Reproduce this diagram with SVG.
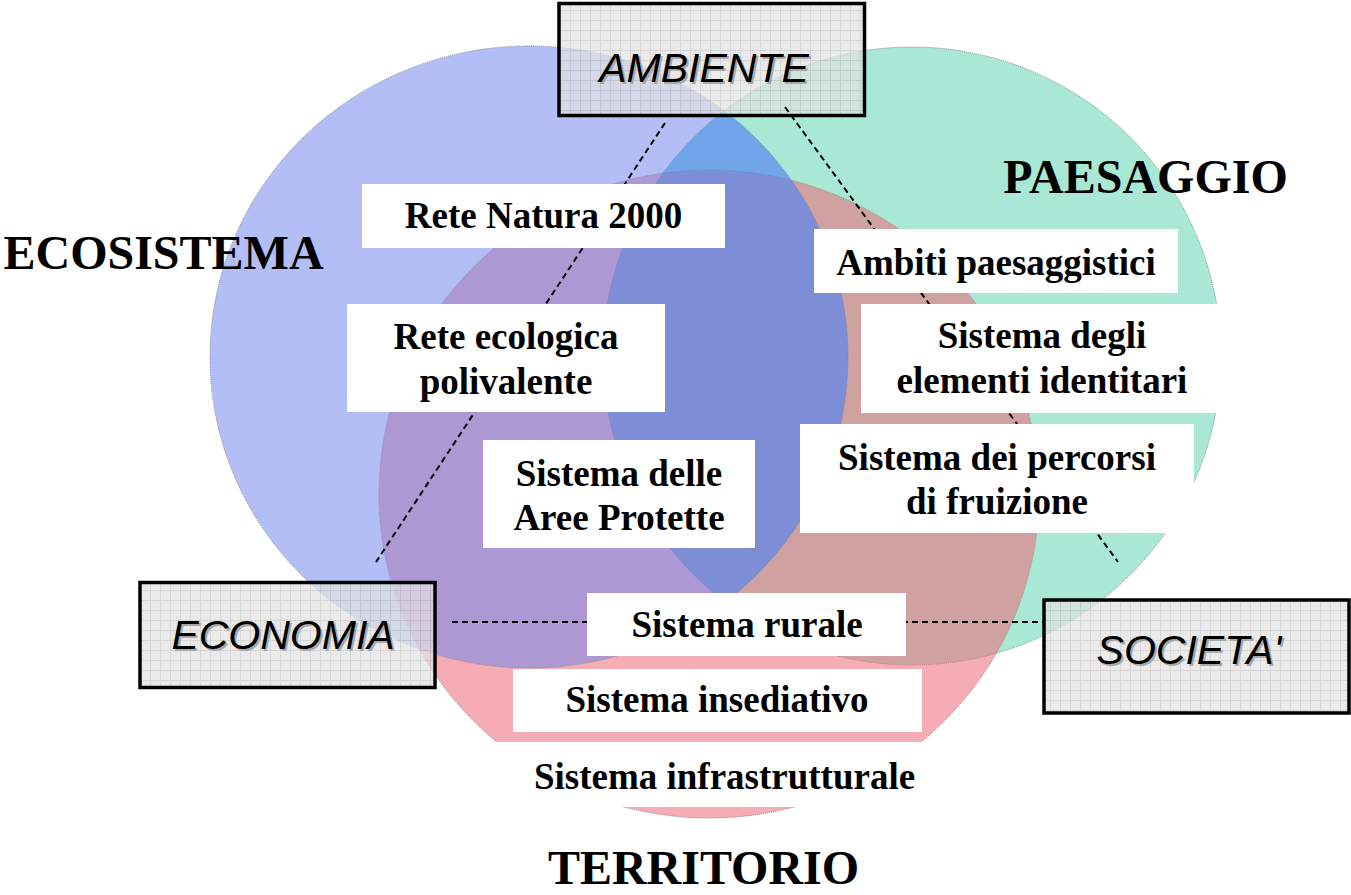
<svg xmlns="http://www.w3.org/2000/svg" width="1351" height="895" viewBox="0 0 1351 895">
<defs>
<pattern id="grid" patternUnits="userSpaceOnUse" width="10" height="10">
<rect width="10" height="10" fill="#e2e2e2"/>
<path d="M0 0.5H10M0.5 0V10" stroke="#c6c6c6" stroke-width="1"/>
</pattern>
<clipPath id="greenClip">
<ellipse cx="912" cy="356" rx="309" ry="309"/>
</clipPath>
</defs>
<style>
.circ{stroke:#8a8a8a;stroke-width:1;stroke-dasharray:1 1;}
.gbox{fill:url(#grid);fill-opacity:0.72;stroke:#000;stroke-width:3.5;}
.wbox{fill:#fff;}
.lbl{font-family:"Liberation Serif","Times New Roman",serif;font-weight:bold;font-size:37px;fill:#000;text-anchor:middle;}
.big{font-family:"Liberation Serif","Times New Roman",serif;font-weight:bold;font-size:48px;fill:#000;text-anchor:middle;}
.ital{font-family:"Liberation Sans",Arial,sans-serif;font-style:italic;font-size:41px;text-anchor:middle;}
.sh{fill:#a8a8a8;}
.fg{fill:#000;}
.dash{fill:none;stroke:#000;stroke-width:2;stroke-dasharray:6 4;}
</style>
<rect width="1351" height="895" fill="#fff"/>

<g id="paesaggio-circle">
<ellipse class="circ" cx="912" cy="356" rx="309" ry="309" fill="rgb(97,213,177)" fill-opacity="0.55"/>
</g>
<g id="territorio-circle">
<ellipse class="circ" cx="709" cy="494" rx="330" ry="324" fill="rgb(239,104,119)" fill-opacity="0.55"/>
</g>
<g id="ecosistema-circle">
<ellipse class="circ" cx="529" cy="357" rx="319" ry="311" fill="rgb(115,137,237)" fill-opacity="0.55"/>
<ellipse cx="529" cy="357" rx="319" ry="311" clip-path="url(#greenClip)" fill="rgb(30,125,255)" fill-opacity="0.25"/>
</g>

<g id="ambiente">
<rect class="gbox" x="559" y="3.5" width="305.5" height="112"/>
<text class="ital sh" x="706" y="84">AMBIENTE</text>
<text class="ital fg" x="704" y="82">AMBIENTE</text>
</g>
<g id="economia">
<rect class="gbox" x="140" y="582.5" width="295" height="105"/>
<text class="ital sh" x="285" y="651">ECONOMIA</text>
<text class="ital fg" x="283" y="649">ECONOMIA</text>
</g>
<g id="societa">
<rect class="gbox" x="1044" y="600" width="305" height="113"/>
<text class="ital sh" x="1191" y="666">SOCIETA'</text>
<text class="ital fg" x="1189" y="664">SOCIETA'</text>
</g>

<g id="connectors">
<line class="dash" x1="665" y1="123" x2="376" y2="562"/>
<line class="dash" x1="785" y1="107" x2="1118" y2="562"/>
<line class="dash" x1="452" y1="622" x2="1043" y2="622"/>
</g>

<g id="rete-natura">
<rect class="wbox" x="362" y="184" width="363" height="64"/>
<text class="lbl" x="543.5" y="228">Rete Natura 2000</text>
</g>
<g id="rete-ecologica">
<rect class="wbox" x="347" y="304" width="318" height="108"/>
<text class="lbl" x="506" y="349">Rete ecologica</text>
<text class="lbl" x="506" y="394">polivalente</text>
</g>
<g id="aree-protette">
<rect class="wbox" x="483" y="440" width="272" height="108"/>
<text class="lbl" x="619" y="486">Sistema delle</text>
<text class="lbl" x="619" y="530">Aree Protette</text>
</g>
<g id="ambiti">
<rect class="wbox" x="814" y="229" width="364" height="64"/>
<text class="lbl" x="996" y="275">Ambiti paesaggistici</text>
</g>
<g id="identitari">
<rect class="wbox" x="861" y="304" width="364" height="109"/>
<text class="lbl" x="1042" y="348">Sistema degli</text>
<text class="lbl" x="1042" y="393">elementi identitari</text>
</g>
<g id="percorsi">
<rect class="wbox" x="800" y="424" width="394" height="109"/>
<text class="lbl" x="997" y="470">Sistema dei percorsi</text>
<text class="lbl" x="997" y="514">di fruizione</text>
</g>
<g id="rurale">
<rect class="wbox" x="587" y="593" width="319" height="63"/>
<text class="lbl" x="747" y="637">Sistema rurale</text>
</g>
<g id="insediativo">
<rect class="wbox" x="513" y="669" width="409" height="63"/>
<text class="lbl" x="717" y="712">Sistema insediativo</text>
</g>
<g id="infrastrutturale">
<rect class="wbox" x="480" y="742" width="470" height="65"/>
<text class="lbl" x="724.5" y="789">Sistema infrastrutturale</text>
</g>

<g id="titles">
<text class="big" x="163.5" y="269">ECOSISTEMA</text>
<text class="big" x="1145.5" y="193">PAESAGGIO</text>
<text class="big" x="703.5" y="884">TERRITORIO</text>
</g>
</svg>
